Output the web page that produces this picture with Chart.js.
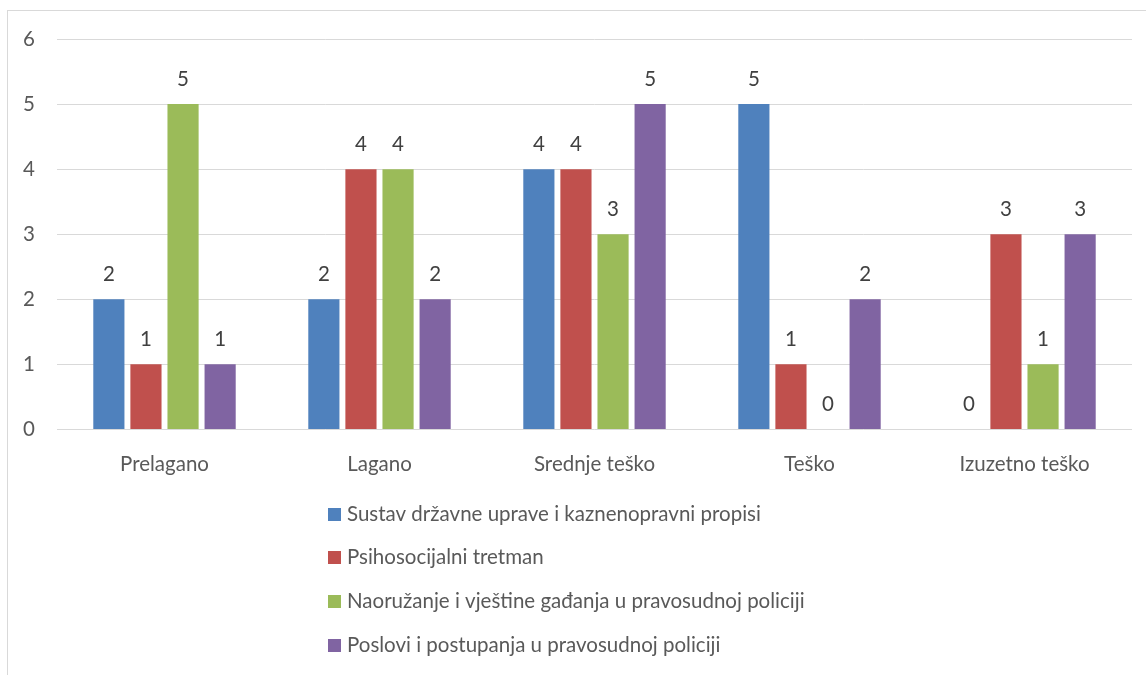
<!DOCTYPE html>
<html>
<head>
<meta charset="utf-8">
<script src="https://cdn.jsdelivr.net/npm/chart.js@4.4.0/dist/chart.umd.min.js"></script>
<style>
  html, body { margin: 0; padding: 0; background: #fff; }
  #wrap { width: 1146px; height: 675px; position: relative; }
</style>
</head>
<body>
<div id="wrap"><canvas id="myCanvas"></canvas></div>
<script>
// categories and series
var categories = ['Prelagano', 'Lagano', 'Srednje teško', 'Teško', 'Izuzetno teško'];
var seriesNames = [
  'Sustav državne uprave i kaznenopravni propisi',
  'Psihosocijalni tretman',
  'Naoružanje i vještine gađanja u pravosudnoj policiji',
  'Poslovi i postupanja u pravosudnoj policiji'
];
var sustav = [2, 2, 4, 5, 0];
var psiho = [1, 4, 4, 1, 3];
var naoruzanje = [5, 4, 3, 0, 1];
var poslovi = [1, 2, 5, 2, 3];
var yTicks = [0, 1, 2, 3, 4, 5, 6];

var colors = ['#4F81BD', '#C0504D', '#9BBB59', '#8064A2'];
var fontFamily = 'Lato, "Open Sans", sans-serif';
var fontSize = 20.5;

// border round the whole chart, like the office frame
var framePlugin = {
  id: 'frame',
  beforeDraw: function(chart) {
    var ctx = chart.ctx;
    ctx.save();
    ctx.fillStyle = '#fff';
    ctx.fillRect(0, 0, chart.width, chart.height);
    ctx.strokeStyle = '#d9d9d9';
    ctx.lineWidth = 1;
    ctx.strokeRect(7.5, 10.5, chart.width + 10, chart.height + 10);
    ctx.restore();
  }
};

// value above each bar
var valueLabels = {
  id: 'valueLabels',
  afterDatasetsDraw: function(chart) {
    var ctx = chart.ctx;
    ctx.save();
    ctx.font = fontSize + 'px ' + fontFamily;
    ctx.fillStyle = '#404040';
    ctx.textAlign = 'center';
    ctx.textBaseline = 'middle';
    chart.data.datasets.forEach(function(ds, i) {
      chart.getDatasetMeta(i).data.forEach(function(bar, j) {
        ctx.fillText(ds.data[j], bar.x, bar.y - 25);
      });
    });
    ctx.restore();
  }
};

// legend as a column under the chart
var columnLegend = {
  id: 'columnLegend',
  afterDraw: function(chart) {
    var ctx = chart.ctx;
    var rows = [514, 557, 601, 645];
    ctx.save();
    ctx.font = fontSize + 'px ' + fontFamily;
    ctx.textBaseline = 'middle';
    chart.data.datasets.forEach(function(ds, i) {
      ctx.fillStyle = ds.backgroundColor;
      ctx.fillRect(328, rows[i] - 6, 13, 13);
      ctx.fillStyle = '#595959';
      ctx.fillText(ds.label, 347, rows[i]);
    });
    ctx.restore();
  }
};

var ctx = document.getElementById('myCanvas').getContext('2d');
var myChart = new Chart(ctx, {
  type: 'bar',
  data: {
    labels: categories,
    datasets: [
      { label: seriesNames[0], data: sustav, backgroundColor: colors[0] },
      { label: seriesNames[1], data: psiho, backgroundColor: colors[1] },
      { label: seriesNames[2], data: naoruzanje, backgroundColor: colors[2] },
      { label: seriesNames[3], data: poslovi, backgroundColor: colors[3] }
    ]
  },
  options: {
    responsive: true,
    maintainAspectRatio: false,
    animation: false,
    layout: { padding: { left: 0, right: 14, top: 39, bottom: 183 } },
    datasets: {
      bar: { categoryPercentage: 0.69, barPercentage: 0.84 }
    },
    plugins: {
      legend: { display: false },
      tooltip: { enabled: false }
    },
    scales: {
      x: {
        grid: { display: false },
        border: { display: false },
        ticks: {
          color: '#595959',
          font: { family: fontFamily, size: fontSize },
          padding: 15
        }
      },
      y: {
        min: 0,
        max: 6,
        afterBuildTicks: function(scale) {
          scale.ticks = yTicks.map(function(v) { return { value: v }; });
        },
        afterFit: function(scale) { scale.width = 57; },
        grid: { color: '#d9d9d9', drawTicks: false },
        border: { display: false },
        ticks: {
          color: '#595959',
          font: { family: fontFamily, size: fontSize },
          padding: 22
        }
      }
    }
  },
  plugins: [framePlugin, valueLabels, columnLegend]
});
</script>
</body>
</html>
